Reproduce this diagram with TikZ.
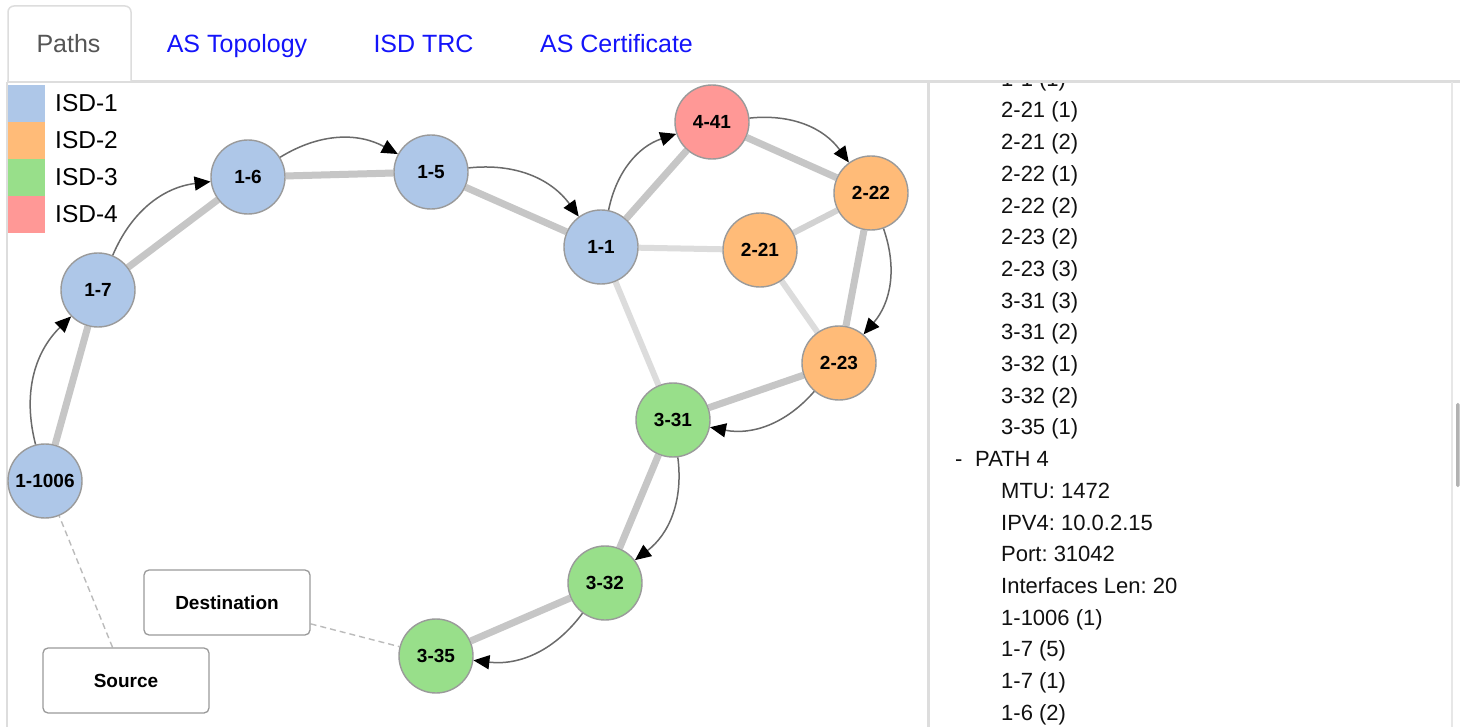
\documentclass[tikz,border=0pt]{standalone}
\usepackage{fontspec}
\setmainfont{Liberation Sans}
\usetikzlibrary{arrows.meta}

\definecolor{isdone}{HTML}{AEC7E8}
\definecolor{isdtwo}{HTML}{FFBB78}
\definecolor{isdthree}{HTML}{98DF8A}
\definecolor{isdfour}{HTML}{FF9896}
\definecolor{ringgray}{HTML}{9A9A9A}
\definecolor{pathedge}{HTML}{C6C6C6}
\definecolor{linkedge}{HTML}{DCDCDC}
\definecolor{linkedgedark}{HTML}{D2D2D2}
\definecolor{hopline}{HTML}{6A6A6A}
\definecolor{tabblue}{HTML}{1414FA}
\definecolor{tabgray}{HTML}{555555}
\definecolor{panelgray}{HTML}{DDDDDD}
\definecolor{dashgray}{HTML}{BBBBBB}
\definecolor{listtext}{HTML}{111111}

\pgfdeclarelayer{back}
\pgfdeclarelayer{edges}
\pgfsetlayers{back,edges,main}

\begin{document}
\frenchspacing
\begin{tikzpicture}[x=1pt,y=-1pt,
  asnode/.style={circle, draw=ringgray, line width=1.4pt, minimum size=74pt,
    inner sep=0pt, font=\fontsize{19}{22}\selectfont\bfseries},
  isda/.style={asnode, fill=isdone},
  isdb/.style={asnode, fill=isdtwo},
  isdc/.style={asnode, fill=isdthree},
  isdd/.style={asnode, fill=isdfour},
  endbox/.style={rectangle, rounded corners=5pt, draw=ringgray, fill=white,
    line width=1.3pt, minimum width=166pt, minimum height=65pt,
    font=\fontsize{19}{22}\selectfont\bfseries},
  pathlink/.style={draw=pathedge, line width=7pt},
  otherlink/.style={draw=linkedge, line width=6pt},
  hop/.style={draw=hopline, line width=1.5pt,
    -{Triangle[length=16pt,width=14pt,black]}, bend left=30},
  endlink/.style={draw=dashgray, line width=1.4pt, dash pattern=on 6pt off 4pt},
  tablabel/.style={anchor=base, font=\fontsize{25}{28}\selectfont, inner sep=0pt},
  legendlabel/.style={anchor=base west, font=\fontsize{24.5}{28}\selectfont, inner sep=0pt},
  listitem/.style={anchor=base west, font=\fontsize{22}{26}\selectfont,
    text=listtext, inner sep=0pt}]

\useasboundingbox (0,0) rectangle (1460,727);

% page background, panel frames and tab bar
\begin{pgfonlayer}{back}
  \fill[white] (0,0) rectangle (1460,727);
  \fill[panelgray] (7,80.5) rectangle (1460,83.5);
  \fill[panelgray] (6,82) rectangle (8,727);
  \fill[panelgray] (926.5,82) rectangle (929.5,727);
  \fill[panelgray!70] (1451,82) rectangle (1453,727);
  \fill[black!30, rounded corners=1.5pt] (1456,403) rectangle (1459.5,487);
  \draw[panelgray, line width=1.5pt, fill=white, rounded corners=6pt]
    (8,81) -- (8,6) -- (131,6) -- (131,81);
\end{pgfonlayer}

% tabs
\node[tablabel, text=tabgray] (tabpaths) at (68.5,53) {Paths};
\node[tablabel, text=tabblue] (tabtopo) at (237,53) {AS Topology};
\node[tablabel, text=tabblue] (tabtrc) at (423.5,53) {ISD TRC};
\node[tablabel, text=tabblue] (tabcert) at (616.5,53) {AS Certificate};

% legend
\fill[isdone]   (8,85)  rectangle (45,122);
\fill[isdtwo]   (8,122) rectangle (45,159);
\fill[isdthree] (8,159) rectangle (45,196);
\fill[isdfour]  (8,196) rectangle (45,233);
\node[legendlabel] (lga) at (55,112) {ISD-1};
\node[legendlabel] (lgb) at (55,149) {ISD-2};
\node[legendlabel] (lgc) at (55,186) {ISD-3};
\node[legendlabel] (lgd) at (55,223) {ISD-4};

% AS nodes
\node[isda] (n1006) at (45,481)  {1-1006};
\node[isda] (n17)   at (98,290)  {1-7};
\node[isda] (n16)   at (248,177) {1-6};
\node[isda] (n15)   at (431,172) {1-5};
\node[isda] (n11)   at (601,247) {1-1};
\node[isdd] (n441)  at (712,122) {4-41};
\node[isdb] (n222)  at (871,193) {2-22};
\node[isdb] (n221)  at (760,250) {2-21};
\node[isdb] (n223)  at (839,363) {2-23};
\node[isdc] (n331)  at (673,420) {3-31};
\node[isdc] (n332)  at (605,583) {3-32};
\node[isdc] (n335)  at (436,656) {3-35};

% endpoint boxes
\node[endbox] (dst) at (227,602.5) {Destination};
\node[endbox] (src) at (126,680.5) {Source};

% topology links
\begin{pgfonlayer}{edges}
  \draw[otherlink] (n11) -- (n221);
  \draw[otherlink] (n11) -- (n331);
  \draw[otherlink] (n221) -- (n223);
  \draw[otherlink, draw=linkedgedark] (n221) -- (n222);
  \draw[pathlink] (n1006) -- (n17);
  \draw[pathlink] (n17) -- (n16);
  \draw[pathlink] (n16) -- (n15);
  \draw[pathlink] (n15) -- (n11);
  \draw[pathlink] (n11) -- (n441);
  \draw[pathlink] (n441) -- (n222);
  \draw[pathlink] (n222) -- (n223);
  \draw[pathlink] (n223) -- (n331);
  \draw[pathlink] (n331) -- (n332);
  \draw[pathlink] (n332) -- (n335);
  \draw[endlink] (src) -- (n1006);
  \draw[endlink] (dst) -- (n335);
\end{pgfonlayer}

% hops of the selected path
\draw[hop] (n1006) to (n17);
\draw[hop] (n17) to (n16);
\draw[hop] (n16) to (n15);
\draw[hop] (n15) to (n11);
\draw[hop] (n11) to (n441);
\draw[hop] (n441) to (n222);
\draw[hop] (n222) to (n223);
\draw[hop] (n223) to (n331);
\draw[hop] (n331) to (n332);
\draw[hop] (n332) to (n335);

% path details list
\begin{scope}
  \clip (929.5,84) rectangle (1451,727);
  \foreach \lbl [count=\i from 0] in {1-1 (1),2-21 (1),2-21 (2),2-22 (1),2-22 (2),
      2-23 (2),2-23 (3),3-31 (3),3-31 (2),3-32 (1),3-32 (2),3-35 (1)}
    \node[listitem] (itema\i) at (1001,{86.3+31.7*\i}) {\lbl};
  \node[listitem] (pathdash) at (955,466.7) {-};
  \node[listitem] (pathhead) at (975,466.7) {PATH 4};
  \foreach \lbl [count=\i from 13] in {MTU: 1472,IPV4: 10.0.2.15,Port: 31042,
      Interfaces Len: 20,1-1006 (1),1-7 (5),1-7 (1),1-6 (2)}
    \node[listitem] (itemb\i) at (1001,{86.3+31.7*\i}) {\lbl};
\end{scope}

\end{tikzpicture}
\end{document}
